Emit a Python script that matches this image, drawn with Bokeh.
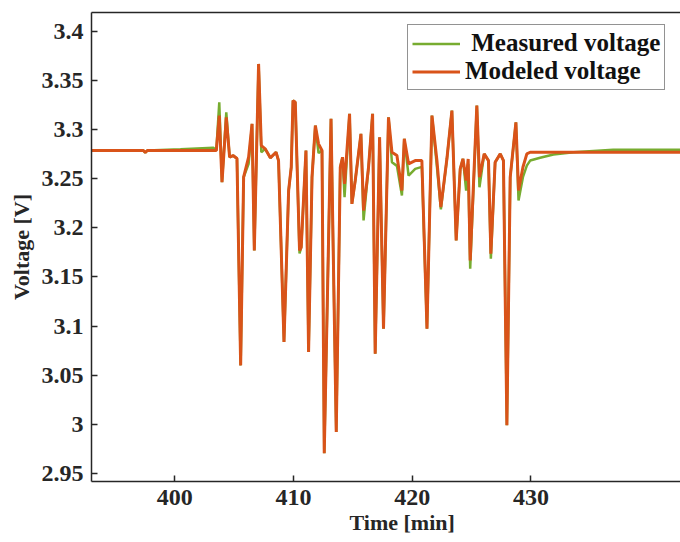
from bokeh.plotting import figure
from bokeh.models import (FixedTicker, LinearAxis, Legend, LegendItem, Range1d, Title)
from bokeh.embed import file_html
from bokeh.resources import INLINE

# ---- data ----
time_min = [393.00, 397.37, 397.53, 397.70, 400.49, 403.26, 403.51, 403.76, 403.99, 404.35,
            404.63, 404.92, 405.25, 405.56, 405.81, 406.23, 406.52, 406.71, 407.07, 407.30,
            407.63, 408.06, 408.54, 408.75, 409.21, 409.60, 409.82, 409.97, 410.16, 410.52,
            410.66, 411.06, 411.28, 411.57, 411.85, 412.12, 412.41, 412.60, 413.17, 413.61,
            413.95, 414.14, 414.31, 414.73, 414.93, 415.21, 415.69, 415.91, 416.33, 416.67,
            416.89, 417.26, 417.59, 418.01, 418.30, 418.72, 419.14, 419.34, 419.70, 420.26,
            420.82, 421.25, 421.67, 422.09, 422.42, 422.93, 423.35, 423.71, 424.05, 424.28,
            424.55, 424.72, 424.89, 425.45, 425.67, 426.07, 426.43, 426.63, 426.99, 427.42,
            427.69, 427.98, 428.26, 428.74, 428.96, 429.33, 429.66, 429.94, 430.78, 431.90,
            433.59, 436.93, 442.57]

modeled_v = [3.2786, 3.2786, 3.2766, 3.2786, 3.2786, 3.2786, 3.2786, 3.3141, 3.2464, 3.3124,
             3.2718, 3.2735, 3.2705, 3.0601, 3.2515, 3.2718, 3.3057, 3.1770, 3.3667, 3.2837,
             3.2803, 3.2712, 3.2769, 3.2684, 3.0838, 3.2379, 3.2616, 3.3294, 3.3277, 3.1770,
             3.1803, 3.2786, 3.0737, 3.2515, 3.3040, 3.2854, 3.2786, 2.9707, 3.3108, 2.9924,
             3.2616, 3.2718, 3.2448, 3.3159, 3.2244, 3.2481, 3.2956, 3.2176, 3.2616, 3.3159,
             3.0720, 3.2921, 3.0974, 3.3124, 3.2769, 3.2735, 3.2380, 3.2905, 3.2651, 3.2684,
             3.2684, 3.0974, 3.3141, 3.2684, 3.2210, 3.2702, 3.3192, 3.1871, 3.2600, 3.2702,
             3.2481, 3.2700, 3.1668, 3.3243, 3.2515, 3.2752, 3.2684, 3.1736, 3.2667, 3.2752,
             3.2684, 2.9992, 3.2515, 3.3073, 3.2380, 3.2616, 3.2752, 3.2769, 3.2769, 3.2769,
             3.2769, 3.2769, 3.2769]

measured_v = [3.2786, 3.2786, 3.2766, 3.2786, 3.2800, 3.2815, 3.2786, 3.3277, 3.2464, 3.3175,
              3.2718, 3.2735, 3.2705, 3.0601, 3.2515, 3.2651, 3.3057, 3.1770, 3.3667, 3.2769,
              3.2803, 3.2712, 3.2769, 3.2684, 3.0838, 3.2379, 3.2616, 3.3294, 3.3277, 3.1740,
              3.1803, 3.2786, 3.0737, 3.2515, 3.3040, 3.2760, 3.2786, 2.9707, 3.3108, 2.9924,
              3.2616, 3.2718, 3.2311, 3.3159, 3.2244, 3.2481, 3.2956, 3.2075, 3.2616, 3.3159,
              3.0720, 3.2921, 3.0974, 3.3124, 3.2667, 3.2630, 3.2329, 3.2905, 3.2532, 3.2600,
              3.2620, 3.0974, 3.3141, 3.2620, 3.2187, 3.2702, 3.3192, 3.1871, 3.2600, 3.2702,
              3.2379, 3.2650, 3.1584, 3.3243, 3.2413, 3.2752, 3.2684, 3.1686, 3.2667, 3.2752,
              3.2684, 2.9992, 3.2515, 3.3073, 3.2278, 3.2515, 3.2633, 3.2684, 3.2712, 3.2745,
              3.2769, 3.2793, 3.2793]

x_ticks = [400, 410, 420, 430]
y_ticks = [2.95, 3.0, 3.05, 3.1, 3.15, 3.2, 3.25, 3.3, 3.35, 3.4]
y_tick_labels = ["2.95", "3", "3.05", "3.1", "3.15", "3.2", "3.25", "3.3", "3.35", "3.4"]
series_labels = [" Measured voltage", "Modeled voltage"]
x_title = "Time [min]"
y_title = "Voltage [V]"

FONT = "Liberation Serif"
AXIS_COLOR = "#262626"

p = figure(width=680, height=542, output_backend="svg", toolbar_location=None,
           x_range=Range1d(393.0, 442.6), y_range=Range1d(2.942, 3.419),
           min_border_left=91, min_border_right=0, min_border_top=12, min_border_bottom=61,
           y_axis_label=y_title)
p.outline_line_color = None
p.xgrid.visible = False
p.ygrid.visible = False
p.background_fill_color = "white"
p.border_fill_color = "white"

r_meas = p.line(time_min, measured_v, line_color="#77AC30", line_width=2.5)
r_mod = p.line(time_min, modeled_v, line_color="#D95319", line_width=3)

for ax in (p.xaxis[0], p.yaxis[0]):
    ax.axis_line_color = AXIS_COLOR
    ax.axis_line_width = 1.5
    ax.major_tick_line_color = AXIS_COLOR
    ax.major_tick_line_width = 1.5
    ax.major_tick_in = 6
    ax.major_tick_out = 0
    ax.minor_tick_line_color = None
    ax.major_label_text_font = FONT
    ax.major_label_text_font_style = "bold"
    ax.major_label_text_font_size = "24px"
    ax.major_label_text_color = AXIS_COLOR
    ax.axis_label_text_font = FONT
    ax.axis_label_text_font_style = "bold"
    ax.axis_label_text_font_size = "22px"
    ax.axis_label_text_color = AXIS_COLOR

p.xaxis[0].ticker = FixedTicker(ticks=x_ticks)
p.yaxis[0].ticker = FixedTicker(ticks=y_ticks)
p.yaxis[0].major_label_overrides = dict(zip(y_ticks, y_tick_labels))
p.xaxis[0].major_label_standoff = 8
p.yaxis[0].major_label_standoff = 8
p.yaxis[0].axis_label_standoff = 5

# x-axis title as a title panel below the axis (placed like the original, near the page edge)
p.add_layout(Title(text=x_title, align="left", offset=258, standoff=0,
                   text_font=FONT, text_font_style="bold", text_font_size="22px",
                   text_color=AXIS_COLOR), "below")

top_axis = LinearAxis(ticker=FixedTicker(ticks=[]), axis_line_color=AXIS_COLOR,
                      axis_line_width=1.5, major_label_text_font_size="0px",
                      major_tick_in=0, major_tick_out=0, minor_tick_line_color=None)
p.add_layout(top_axis, "above")

legend = Legend(items=[LegendItem(label=series_labels[0], renderers=[r_meas]),
                       LegendItem(label=series_labels[1], renderers=[r_mod])],
                location=(316, 391))
legend.label_text_font = FONT
legend.label_text_font_style = "bold"
legend.label_text_font_size = "25px"
legend.label_text_color = "#111111"
legend.border_line_color = AXIS_COLOR
legend.border_line_width = 1.5
legend.background_fill_color = "white"
legend.background_fill_alpha = 1.0
legend.padding = 4
legend.spacing = 0
legend.margin = 0
legend.glyph_width = 48
legend.glyph_height = 25
legend.label_height = 25
legend.label_standoff = 5
p.add_layout(legend)

open("out.html", "w").write(file_html(p, INLINE))
